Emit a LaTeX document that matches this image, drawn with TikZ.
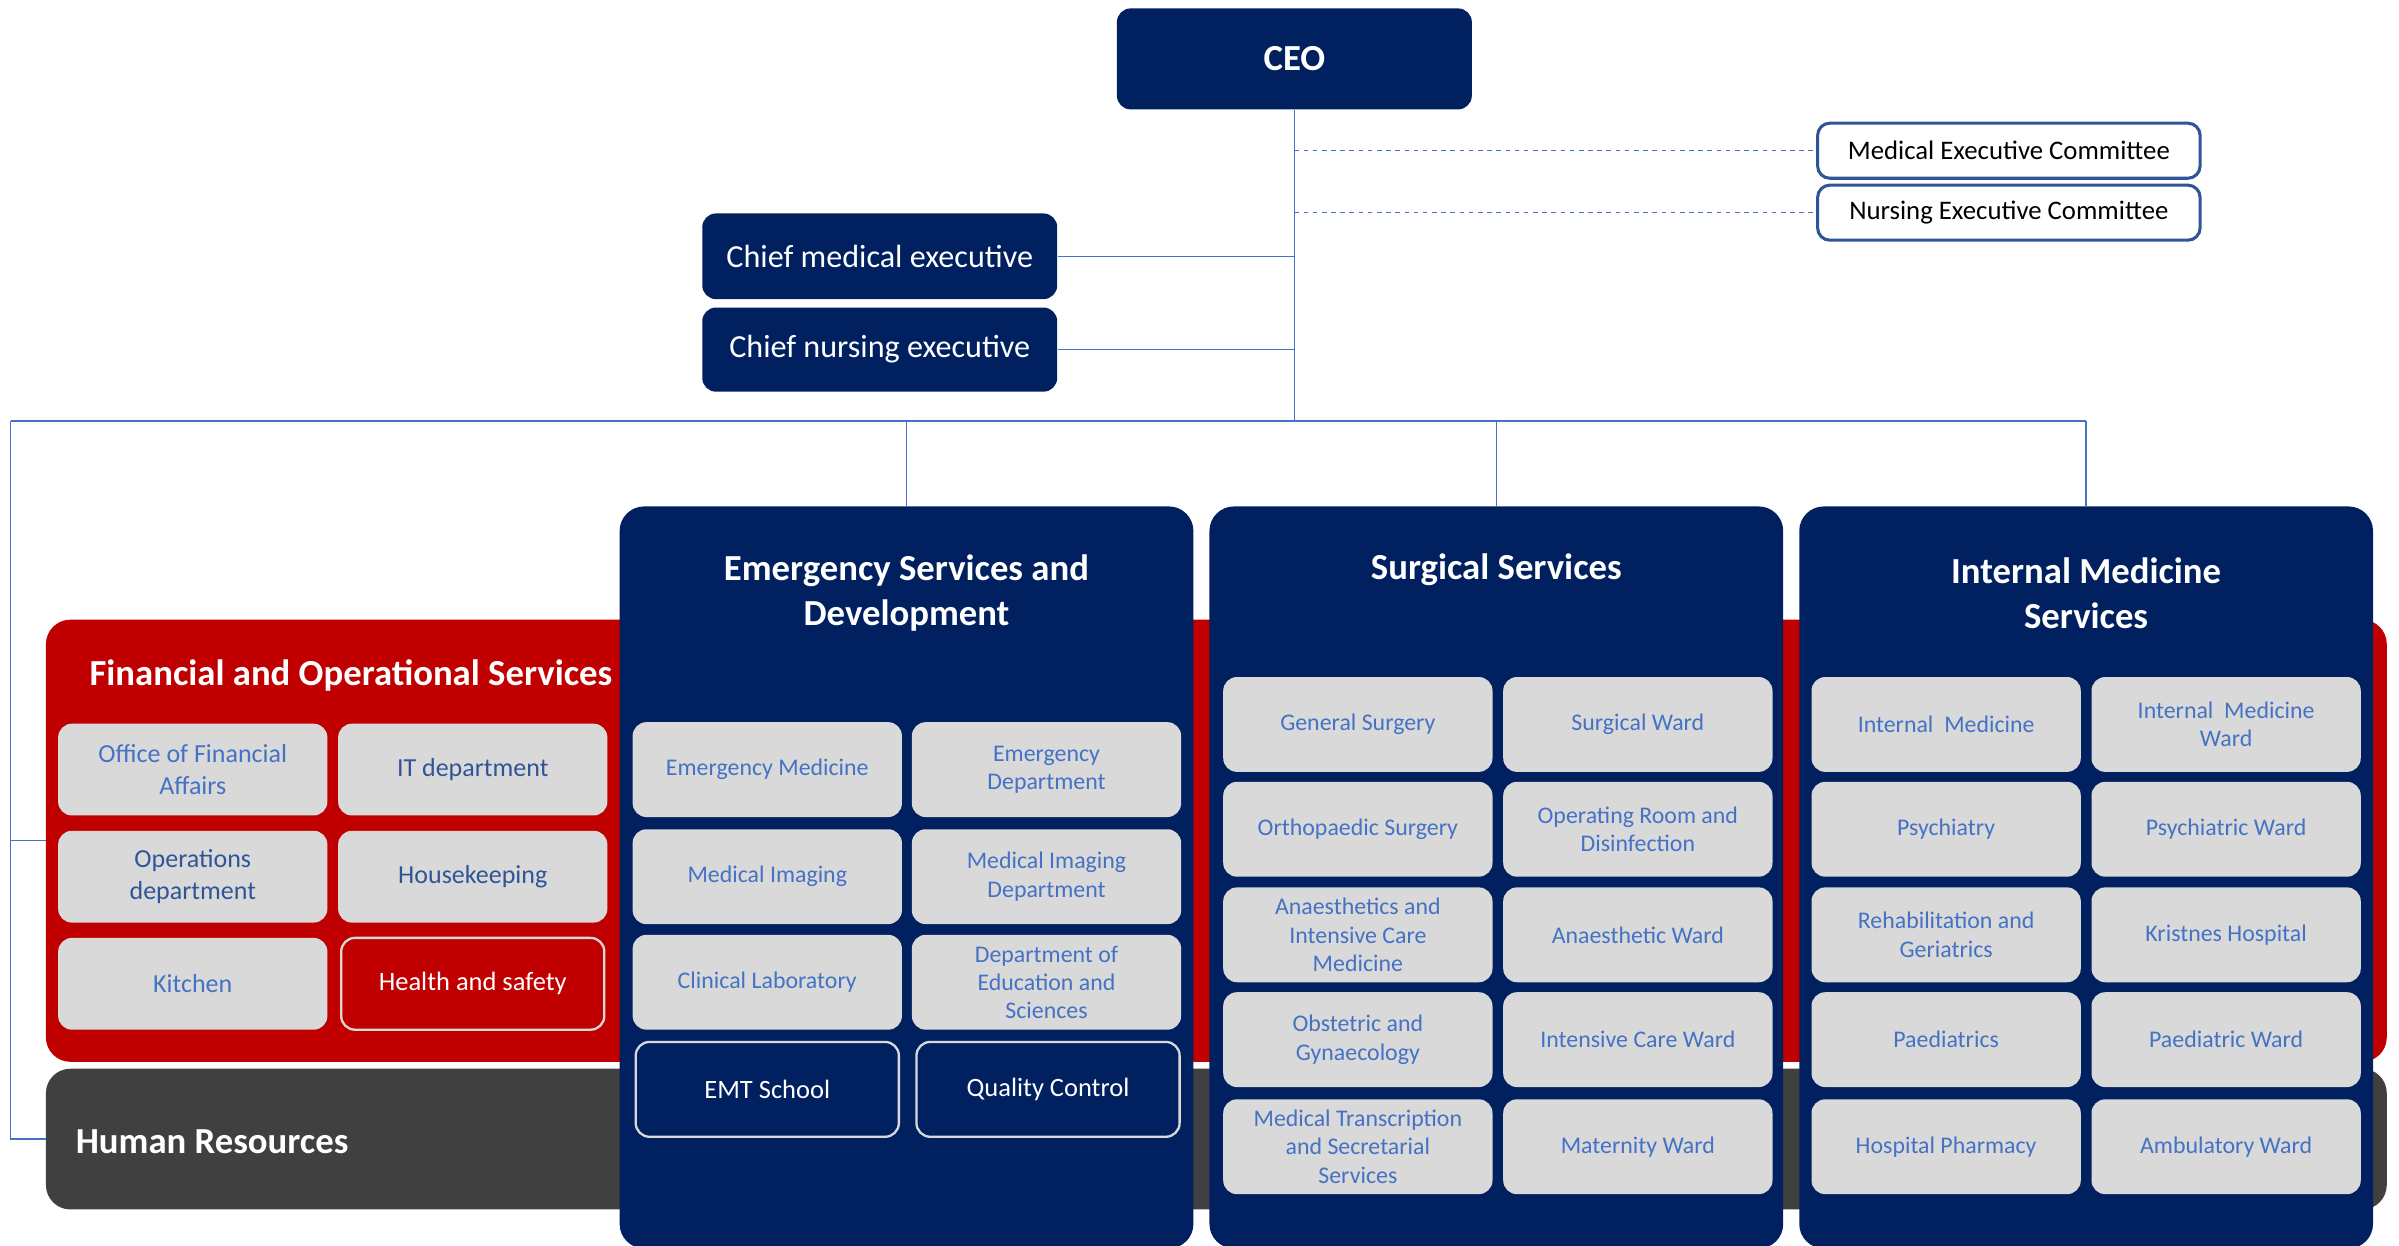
\documentclass[tikz,border=0pt]{standalone}
\usepackage{fontspec}
\setmainfont{Carlito}
\definecolor{navy}{HTML}{002060}
\definecolor{finred}{HTML}{C00000}
\definecolor{hrgray}{HTML}{404040}
\definecolor{cellgray}{HTML}{D9D9D9}
\definecolor{cellblue}{HTML}{4472C4}
\definecolor{darkblue}{HTML}{2F5597}

\begin{document}
\begin{tikzpicture}[x=1pt,y=-1pt,
	link/.style={draw=cellblue,line width=1pt},
	head/.style={fill=navy,text=white,rounded corners=9pt,inner sep=0pt,align=center},
	committee/.style={draw=darkblue,line width=2pt,fill=white,rounded corners=8pt,
		minimum width=250pt,minimum height=36pt,inner sep=0pt,font=\fontsize{17.5}{20}\selectfont},
	panel/.style={fill=navy,rounded corners=16pt,minimum width=375pt,minimum height=485pt,inner sep=0pt},
	band/.style={rounded corners=16pt,minimum width=1530pt,inner sep=0pt},
	title/.style={text=white,font=\bfseries\fontsize{24}{29.5}\selectfont,align=center},
	unit/.style={fill=cellgray,text=cellblue,rounded corners=9pt,minimum width=176pt,minimum height=62pt,
		inner sep=0pt,align=center,font=\fontsize{15.6}{18.5}\selectfont},
	finunit/.style={unit,minimum height=60pt,font=\fontsize{17}{20.5}\selectfont},
	outlined/.style={unit,fill=#1,text=white,draw=cellgray,line width=1.5pt,minimum width=172pt,
		font=\fontsize{17.3}{20.5}\selectfont}]
	\useasboundingbox (0,0) rectangle (1568,814);

	% top of the chart
	\node[head,minimum width=232pt,minimum height=66pt,font=\bfseries\fontsize{24}{27}\selectfont] (ceo) at (846,38.5) {CEO};
	\node[head,minimum width=232pt,minimum height=56pt,font=\fontsize{21}{24}\selectfont] (cme) at (575,167.5) {Chief medical executive};
	\node[head,minimum width=232pt,minimum height=55pt,font=\fontsize{21}{24}\selectfont] (cne) at (575,228.5) {Chief nursing executive};
	\node[committee] (mec) at (1313,98.5) {Medical Executive Committee};
	\node[committee] (nec) at (1313,139) {Nursing Executive Committee};

	% bands behind the divisions
	\node[band,fill=finred,minimum height=289pt] (fin) at (795,549.5) {};
	\node[band,fill=hrgray,minimum height=92pt] (hr) at (795,744.5) {};
	\node[title,anchor=west] (fintitle) at (55,441.5) {Financial and Operational Services};
	\node[title,anchor=west] (hrtitle) at (46,746) {Human Resources};

	% divisions
	\node[panel] (esd) at (592.5,573.5) {};
	\node[panel] (surg) at (978,573.5) {};
	\node[panel] (ims) at (1363.5,573.5) {};
	\node[title] at (592.5,387.5) {Emergency Services and\\Development};
	\node[title] at (978,372.5) {Surgical Services};
	\node[title] at (1363.5,387.5) {Internal Medicine\\Services};

	% financial and operational units
	\node[finunit] (ofa) at (126,503) {Office of Financial\\Affairs};
	\node[finunit,text=darkblue] (itd) at (309,503) {IT department};
	\node[finunit,text=darkblue] (opd) at (126,573) {Operations\\department};
	\node[finunit,text=darkblue] (hkp) at (309,573) {Housekeeping};
	\node[finunit] (kit) at (126,643) {Kitchen};
	\node[outlined=finred,minimum height=60pt] (hns) at (309,643) {Health and safety};

	% emergency units
	\node[unit] (emm) at (501.5,503) {Emergency Medicine};
	\node[unit] (emd) at (684,503) {Emergency\\Department};
	\node[unit] (mim) at (501.5,573) {Medical Imaging};
	\node[unit] (mid) at (684,573) {Medical Imaging\\Department};
	\node[unit] (cll) at (501.5,642) {Clinical Laboratory};
	\node[unit] (des) at (684,642) {Department of\\Education and\\Sciences};
	\node[outlined=navy] (emt) at (501.5,712) {EMT School};
	\node[outlined=navy] (qc) at (685,712) {Quality Control};

	% surgical units
	\node[unit] (gsu) at (887.5,473.5) {General Surgery};
	\node[unit] (swd) at (1070.5,473.5) {Surgical Ward};
	\node[unit] (osu) at (887.5,542) {Orthopaedic Surgery};
	\node[unit] (ord) at (1070.5,542) {Operating Room and\\Disinfection};
	\node[unit] (aic) at (887.5,611) {Anaesthetics and\\Intensive Care\\Medicine};
	\node[unit] (awd) at (1070.5,611) {Anaesthetic Ward};
	\node[unit] (obg) at (887.5,679.5) {Obstetric and\\Gynaecology};
	\node[unit] (icw) at (1070.5,679.5) {Intensive Care Ward};
	\node[unit] (mts) at (887.5,749.5) {Medical Transcription\\and Secretarial\\Services};
	\node[unit] (mwd) at (1070.5,749.5) {Maternity Ward};

	% internal medicine units
	\node[unit] (imd) at (1272,473.5) {Internal~~Medicine};
	\node[unit] (imw) at (1455,473.5) {Internal~~Medicine\\Ward};
	\node[unit] (psy) at (1272,542) {Psychiatry};
	\node[unit] (psw) at (1455,542) {Psychiatric Ward};
	\node[unit] (reg) at (1272,611) {Rehabilitation and\\Geriatrics};
	\node[unit] (krh) at (1455,611) {Kristnes Hospital};
	\node[unit] (pae) at (1272,679.5) {Paediatrics};
	\node[unit] (paw) at (1455,679.5) {Paediatric Ward};
	\node[unit] (hph) at (1272,749.5) {Hospital Pharmacy};
	\node[unit] (amw) at (1455,749.5) {Ambulatory Ward};

	% connectors
	\coordinate (bus) at (846,275);
	\coordinate (busleft) at (7,275);
	\draw[link] (ceo.south) -- (bus);
	\draw[link] (cme.east) -- (cme.east -| bus);
	\draw[link] (cne.east) -- (cne.east -| bus);
	\draw[link,dashed] (mec.west -| bus) -- (mec.west);
	\draw[link,dashed] (nec.west -| bus) -- (nec.west);
	\draw[link] (busleft) -- (ims.north |- bus);
	\draw[link] (esd.north |- bus) -- (esd.north);
	\draw[link] (surg.north |- bus) -- (surg.north);
	\draw[link] (ims.north |- bus) -- (ims.north);
	\draw[link] (busleft) -- (busleft |- hr.west) -- (hr.west);
	\draw[link] (busleft |- fin.west) -- (fin.west);
\end{tikzpicture}
\end{document}
